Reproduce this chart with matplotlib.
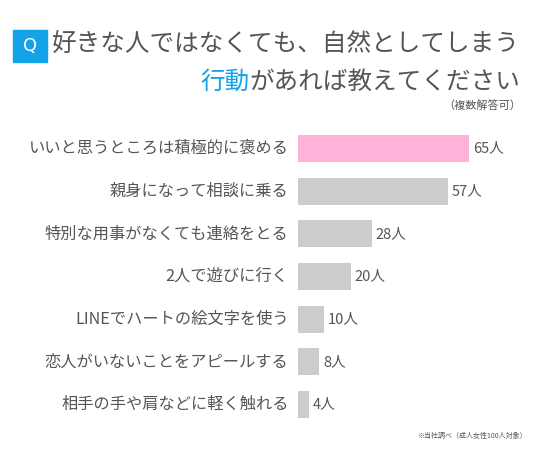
import matplotlib
matplotlib.use('Agg')
import matplotlib.pyplot as plt
from matplotlib.patches import Rectangle

plt.rcParams['font.family'] = ['Noto Sans CJK JP', 'DejaVu Sans']

# データ
labels = ['いいと思うところは積極的に褒める', '親身になって相談に乗る', '特別な用事がなくても連絡をとる',
          '2人で遊びに行く', 'LINEでハートの絵文字を使う', '恋人がいないことをアピールする',
          '相手の手や肩などに軽く触れる']
values = [65, 57, 28, 20, 10, 8, 4]
value_labels = [f'{v}人' for v in values]

W, H = 536, 450
TEXT = '#555555'
BLUE = '#14a3e8'
PINK = '#ffb3d9'
GRAY = '#cccccc'

fig = plt.figure(figsize=(W / 100, H / 100), dpi=100)
fig.patch.set_facecolor('white')

# 棒グラフの領域
ax_left, ax_right = 298, 298 + 263
ax_top, ax_bottom = 127, 426
ax = fig.add_axes([ax_left / W, 1 - ax_bottom / H, (ax_right - ax_left) / W, (ax_bottom - ax_top) / H])
y = list(range(len(values)))
colors = [PINK] + [GRAY] * (len(values) - 1)
ax.barh(y, values, height=0.63, color=colors)
ax.set_xlim(0, 100)
ax.set_ylim(len(values) - 0.5, -0.5)
ax.axis('off')

for yi, v, s, lab in zip(y, values, value_labels, labels):
    ax.text(v + 1.5, yi, s, va='center', ha='left', fontsize=10.5, color=TEXT)
    ax.text(-3.6, yi, lab, va='center', ha='right', fontsize=11.7, color=TEXT)

# タイトル
fig.patches.append(Rectangle((13 / W, 1 - 62 / H), 34 / W, 32 / H, transform=fig.transFigure,
                             color=BLUE, zorder=1))
fig.text(30 / W, 1 - 46 / H, 'Q', ha='center', va='center', fontsize=13, color='white',
         family=['DejaVu Sans'])
fig.text(520 / W, 1 - 44 / H, '好きな人ではなくても、自然としてしまう', ha='right', va='center',
         fontsize=17.7, color=TEXT)
t2 = fig.text(520 / W, 1 - 82 / H, 'があれば教えてください', ha='right', va='center',
              fontsize=17.7, color=TEXT)
fig.canvas.draw()
bb = t2.get_window_extent()
fig.text(bb.x0 / W, 1 - 82 / H, '行動', ha='right', va='center', fontsize=17.7, color=BLUE)
fig.text(521 / W, 1 - 105 / H, '（複数解答可）', ha='right', va='center', fontsize=8, color=TEXT)

fig.text(527 / W, 1 - 436 / H, '※当社調べ（成人女性100人対象）', ha='right', va='center',
         fontsize=5, color=TEXT)

plt.savefig('out.png', dpi=100)
